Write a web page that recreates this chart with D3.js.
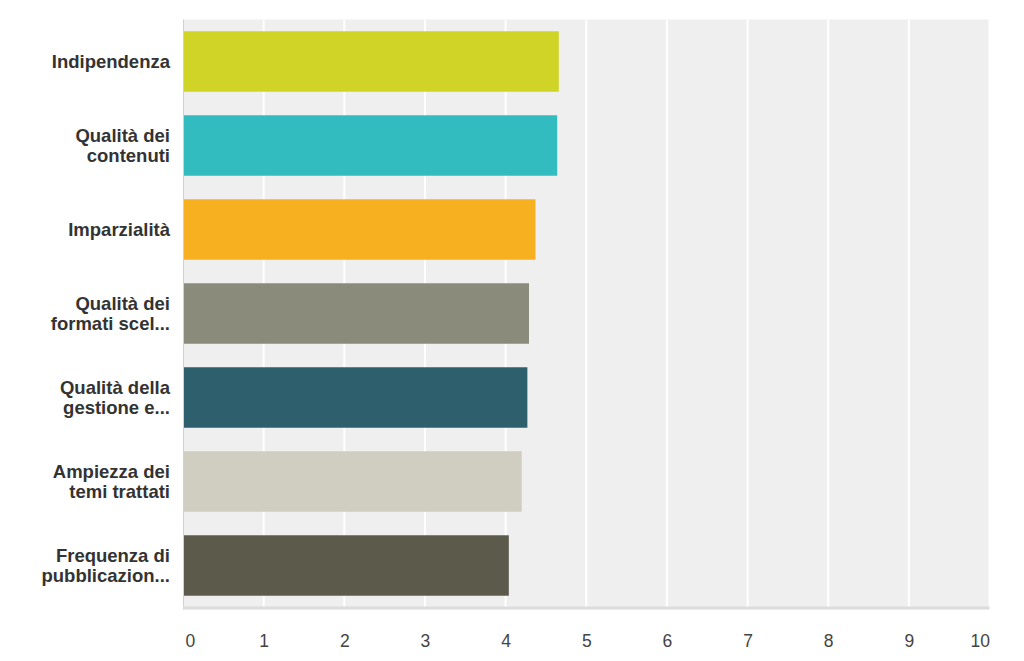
<!DOCTYPE html>
<html><head><meta charset="utf-8">
<script src="https://cdn.jsdelivr.net/npm/d3@7"></script>
<style>
html,body{margin:0;padding:0;background:#fff;}
svg{display:block;font-family:"Liberation Sans",Arial,Helvetica,sans-serif;}
</style></head>
<body>
<script>
const categories = [
  ["Indipendenza"],
  ["Qualità dei","contenuti"],
  ["Imparzialità"],
  ["Qualità dei","formati scel..."],
  ["Qualità della","gestione e..."],
  ["Ampiezza dei","temi trattati"],
  ["Frequenza di","pubblicazion..."]
];
const values = [4.66, 4.64, 4.37, 4.29, 4.27, 4.20, 4.04];
const colors = ["#cfd427","#33bcbf","#f7b01f","#8a8b7a","#2d5f6d","#cfcec0","#5c5b4b"];
const xTicks = [0,1,2,3,4,5,6,7,8,9,10];

const W = 1024, H = 661;
const m = {left:183, right:W-989.5, top:19.5, bottom:H-607.5};
const svg = d3.select("body").append("svg").attr("width",W).attr("height",H);

const x = d3.scaleLinear().domain([0,10]).range([m.left, W-m.right]);
const y = d3.scaleBand().domain(d3.range(categories.length)).range([m.top, H-m.bottom]).paddingInner(0.28).paddingOuter(0.14);

// background
svg.append("rect").attr("x",m.left).attr("y",m.top).attr("width",x(10)-x(0)).attr("height",H-m.bottom-m.top).attr("fill","#efefef");

// gridlines
svg.append("g").selectAll("line").data(xTicks.slice(1)).join("line")
  .attr("x1",d=>x(d)).attr("x2",d=>x(d)).attr("y1",m.top).attr("y2",H-m.bottom)
  .attr("stroke","#fff").attr("stroke-width",2);

// bars
svg.append("g").selectAll("rect").data(values).join("rect")
  .attr("x",x(0)).attr("y",(d,i)=>y(i)).attr("width",d=>x(d)-x(0)).attr("height",y.bandwidth())
  .attr("fill",(d,i)=>colors[i]);

// left border and bottom border
svg.append("line").attr("x1",m.left+0.5).attr("x2",m.left+0.5).attr("y1",m.top).attr("y2",H-m.bottom+2).attr("stroke","#d0d0d0").attr("stroke-width",1);
svg.append("line").attr("x1",m.left).attr("x2",x(10)).attr("y1",H-m.bottom+0.5).attr("y2",H-m.bottom+0.5).attr("stroke","#dcdcdc").attr("stroke-width",3);

// x axis
const xAxis = d3.axisBottom(x).tickValues(xTicks).tickSize(0).tickPadding(0);
const gx = svg.append("g").attr("transform",`translate(0,${H-m.bottom})`).call(xAxis);
gx.select(".domain").remove();
gx.selectAll("text").attr("font-size",17.5).attr("fill","#444").attr("dy",null).attr("y",39)
  .attr("font-family","'Liberation Sans',Arial,sans-serif")
  .attr("text-anchor",(d,i)=> i===0?"start": (i===xTicks.length-1?"end":"middle"))
  .attr("x",(d,i)=> i===0?2:0);

// y labels
const lab = svg.append("g").selectAll("text").data(categories).join("text")
  .attr("x",m.left-13).attr("text-anchor","end").attr("font-weight","bold").attr("font-size",18.5).attr("fill","#333")
  .attr("y",(d,i)=>y(i)+y.bandwidth()/2);
lab.each(function(d){
  const t = d3.select(this);
  const n = d.length, lh = 20.5;
  d.forEach((s,j)=>{
    t.append("tspan").attr("x",m.left-13).attr("y",+t.attr("y") + (j-(n-1)/2)*lh).attr("dy","0.35em").text(s);
  });
});
</script>
</body></html>
